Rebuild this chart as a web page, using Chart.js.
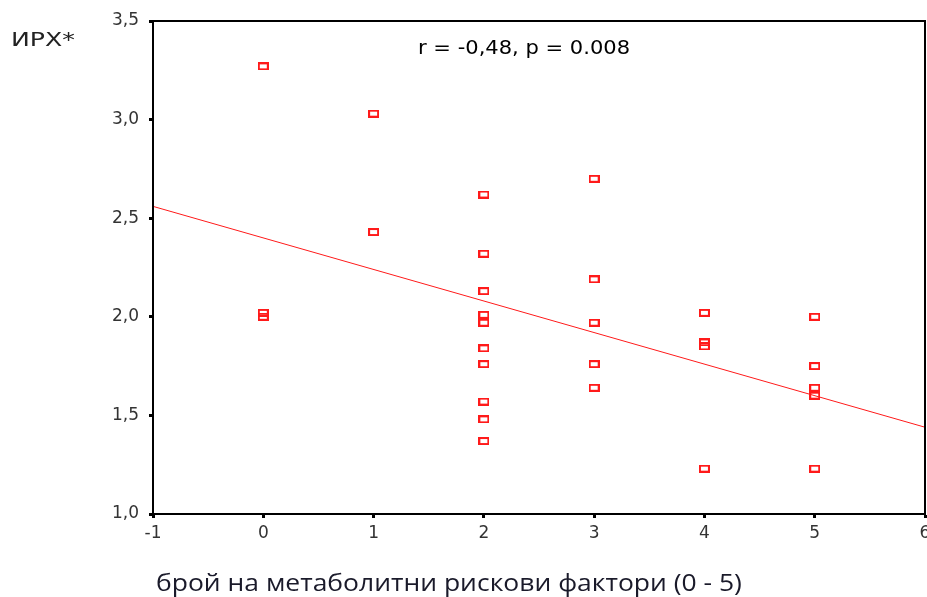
<!DOCTYPE html>
<html>
<head>
<meta charset="utf-8">
<script src="https://cdn.jsdelivr.net/npm/chart.js@4/dist/chart.umd.min.js"></script>
<style>
  body { margin: 0; background: #fff; }
  #wrap { position: relative; width: 927px; height: 597px; overflow: hidden; }
  .lbl { position: absolute; white-space: nowrap; line-height: 1; color: #222; transform-origin: 0 0; }
  #ylab { left: 11px; top: 27px; font: 20px "DejaVu Sans", sans-serif; }
  #note { left: 418px; top: 35px; font: 20px "DejaVu Sans", sans-serif; color: #000; }
  #xlab { left: 156px; top: 565px; font: 24px "Open Sans", sans-serif; color: #1a1a2a; }
</style>
</head>
<body>
<div id="wrap">
  <canvas id="c" width="931" height="597"></canvas>
  <div class="lbl" id="ylab" data-w="64">ИРХ*</div>
  <div class="lbl" id="note" data-w="212">r = -0,48, p = 0.008</div>
  <div class="lbl" id="xlab" data-w="586">брой на метаболитни рискови фактори (0 - 5)</div>
</div>
<script>
// брой рискови фактори и ИРХ за всеки пациент
const riskFactors = [0, 0, 0, 1, 1,
  2, 2, 2, 2, 2, 2, 2, 2, 2, 2,
  3, 3, 3, 3, 3,
  4, 4, 4, 4,
  5, 5, 5, 5, 5];
const irx = [3.27, 2.02, 2.00, 3.03, 2.43,
  2.62, 2.32, 2.13, 2.01, 1.97, 1.84, 1.76, 1.57, 1.48, 1.37,
  2.70, 2.19, 1.97, 1.76, 1.64,
  2.02, 1.87, 1.85, 1.23,
  2.00, 1.75, 1.64, 1.60, 1.23];

// регресионна права
const fitX = [-1, 6];
const fitY = [2.56, 1.44];

const yTicks = ["1,0", "1,5", "2,0", "2,5", "3,0", "3,5"];
const xTicks = ["-1", "0", "1", "2", "3", "4", "5", "6"];

const RED = "#ff1a1a";

// малко квадратче като маркер
function box() {
  const c = document.createElement("canvas");
  c.width = 11; c.height = 8;
  const g = c.getContext("2d");
  g.strokeStyle = RED;
  g.lineWidth = 2;
  g.strokeRect(1, 1, 9, 6);
  return c;
}

const frame = {
  id: "frame",
  afterDraw(ch) {
    const a = ch.chartArea, ctx = ch.ctx;
    ctx.save();
    ctx.strokeStyle = "#000";
    ctx.lineWidth = 2;
    ctx.strokeRect(a.left, a.top, a.right - a.left, a.bottom - a.top);
    ctx.restore();
  }
};

const tickFont = { family: "DejaVu Sans", size: 17 };

new Chart(document.getElementById("c"), {
  data: {
    datasets: [
      {
        type: "scatter",
        data: riskFactors.map((x, i) => ({ x, y: irx[i] })),
        pointStyle: box(),
        pointRadius: 5,
        order: 1
      },
      {
        type: "line",
        data: fitX.map((x, i) => ({ x, y: fitY[i] })),
        borderColor: RED,
        borderWidth: 1,
        pointRadius: 0,
        order: 2
      }
    ]
  },
  options: {
    responsive: false,
    animation: false,
    layout: { padding: { left: 0, top: 21, right: 0, bottom: 0 } },
    plugins: { legend: { display: false }, tooltip: { enabled: false } },
    scales: {
      x: {
        type: "linear",
        min: -1, max: 6,
        afterFit: s => { s.height = 83; s.paddingLeft = 0; s.paddingRight = 0; },
        border: { display: true, color: "#000", width: 2 },
        grid: { drawOnChartArea: false, drawTicks: true, tickLength: 4, tickWidth: 3, tickColor: "#000" },
        ticks: {
          stepSize: 1, padding: 5, color: "#333", font: tickFont, maxRotation: 0,
          callback: (v, i) => xTicks[i]
        }
      },
      y: {
        min: 1, max: 3.5,
        afterFit: s => { s.width = 153; s.paddingTop = 0; s.paddingBottom = 0; },
        border: { display: true, color: "#000", width: 2 },
        grid: { drawOnChartArea: false, drawTicks: true, tickLength: 4, tickWidth: 3, tickColor: "#000" },
        ticks: {
          stepSize: 0.5, padding: 10, color: "#333", font: tickFont,
          callback: (v, i) => yTicks[i]
        }
      }
    }
  },
  plugins: [frame]
});

// текстовете се разтягат до ширината им в оригинала
document.querySelectorAll(".lbl").forEach(el => {
  const w = el.getBoundingClientRect().width;
  el.style.transform = `scaleX(${(+el.dataset.w / w).toFixed(3)})`;
});
</script>
</body>
</html>
